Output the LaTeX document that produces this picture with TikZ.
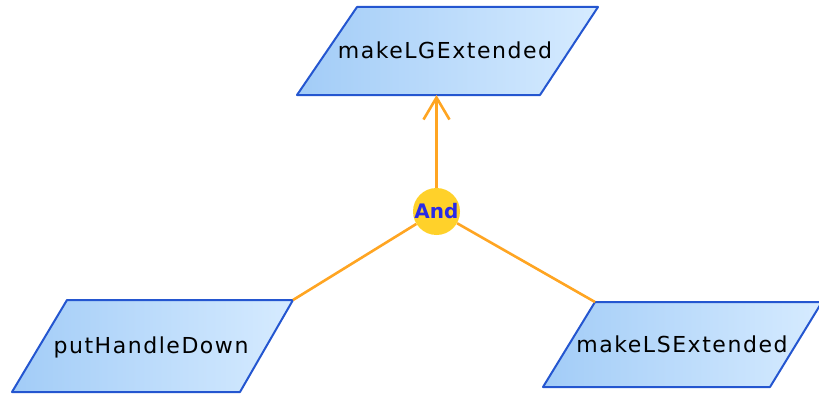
\documentclass[tikz,border=0pt]{standalone}
\usepackage{fontspec}
\setmainfont{DejaVu Sans}
\usetikzlibrary{arrows.meta}
\definecolor{taskblue}{HTML}{2456D0}
\definecolor{taskleft}{HTML}{A2CCF7}
\definecolor{taskright}{HTML}{D6EBFF}
\definecolor{linkorange}{HTML}{FFA522}
\definecolor{andgold}{HTML}{FFD12A}
\definecolor{andtext}{HTML}{2A2AE6}

\tikzset{
  task/.style={draw=taskblue, line width=2pt, line join=round,
    left color=taskleft, right color=taskright},
  tasktext/.style={inner sep=0pt, anchor=base,
    font=\fontsize{22}{26}\selectfont\addfontfeature{LetterSpace=7}},
  andgate/.style={circle, fill=andgold, minimum size=47pt, inner sep=0pt,
    text=andtext, font=\bfseries\fontsize{20}{24}\selectfont},
  link/.style={draw=linkorange, line width=2.6pt}
}

\begin{document}
\begin{tikzpicture}[x=1pt,y=-1pt]
    \useasboundingbox (0,0) rectangle (819,396);
    % goal corners
    \coordinate (lge-tl) at (357,7);
    \coordinate (lge-tr) at (598,7);
    \coordinate (lge-br) at (540,95);
    \coordinate (lge-bl) at (297,95);
    \coordinate (phd-tl) at (67,300);
    \coordinate (phd-tr) at (293,300);
    \coordinate (phd-br) at (240,392);
    \coordinate (phd-bl) at (12,392);
    \coordinate (lse-tl) at (595,302);
    \coordinate (lse-tr) at (822,302);
    \coordinate (lse-br) at (770,387);
    \coordinate (lse-bl) at (543,387);
    % goals
    \shadedraw[task] (lge-tl) -- (lge-tr) -- (lge-br) -- (lge-bl) -- cycle;
    \shadedraw[task] (phd-tl) -- (phd-tr) -- (phd-br) -- (phd-bl) -- cycle;
    \shadedraw[task] (lse-tl) -- (lse-tr) -- (lse-br) -- (lse-bl) -- cycle;
    \node[tasktext] (lge) at (445,59) {makeLGExtended};
    \node[tasktext] (phd) at (151,353) {putHandleDown};
    \node[tasktext] (lse) at (682,352) {makeLSExtended};
    % refinement
    \node[andgate] (and) at (436.5,211.5) {And};
    \draw[link, -{Straight Barb[length=22pt,width=26pt]}] (and) -- (and |- lge-bl);
    \draw[link] (and) -- (phd-tr);
    \draw[link] (and) -- (lse-tl);
\end{tikzpicture}
\end{document}
